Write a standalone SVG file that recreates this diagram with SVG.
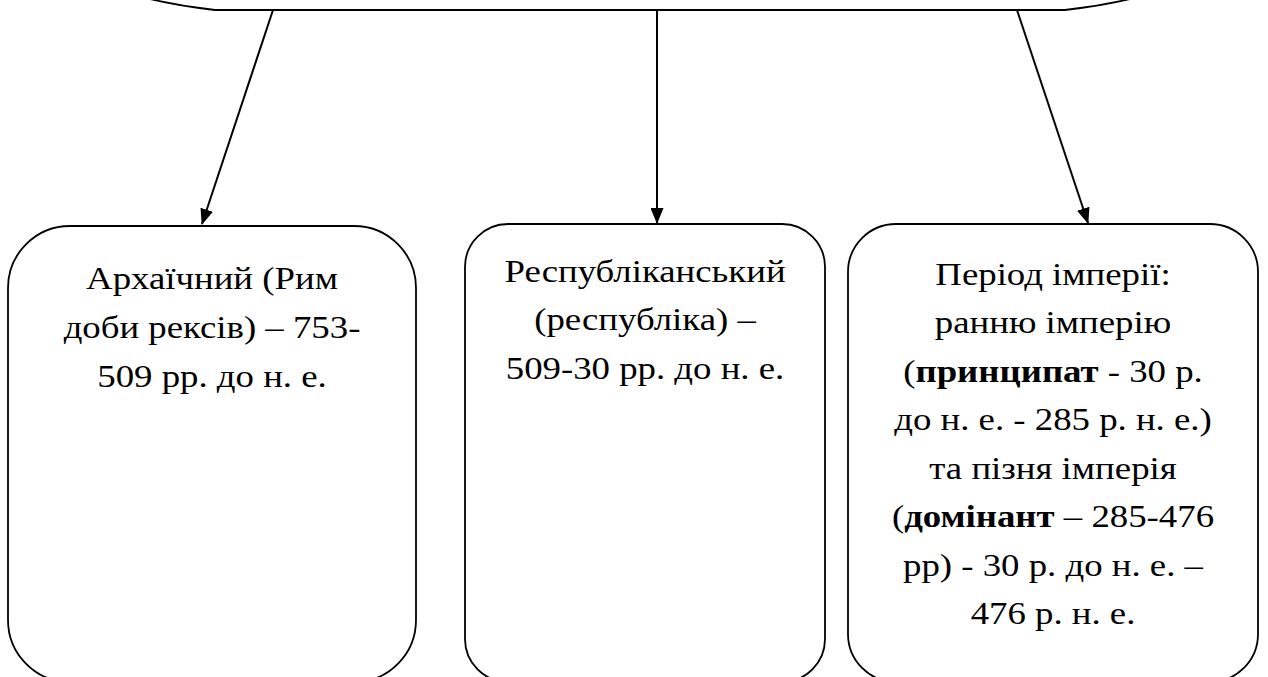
<svg xmlns="http://www.w3.org/2000/svg" width="1268" height="677" viewBox="0 0 1268 677">
<style>
.box{fill:#fff;stroke:#000;stroke-width:1.8}
.lbl{font-family:'Liberation Serif','Times New Roman',serif;font-size:32px;fill:#000;text-anchor:middle}
.b{font-weight:bold}
.con{stroke:#000;stroke-width:2;fill:none}
</style>
<defs>
<marker id="ah" markerWidth="16" markerHeight="13" refX="15" refY="6.5" orient="auto" markerUnits="userSpaceOnUse">
<path d="M0,0 L16,6.5 L0,13 Z" fill="#000"/>
</marker>
</defs>
<rect width="1268" height="677" fill="#fff"/>
<g id="top">
<path class="box" d="M 40 -40 A 530 530 0 0 0 215 10 H 1065 A 530 530 0 0 0 1240 -40"/>
</g>
<g id="connectors">
<line class="con" x1="273" y1="10" x2="202" y2="224" marker-end="url(#ah)"/>
<line class="con" x1="657" y1="10" x2="657" y2="223" marker-end="url(#ah)"/>
<line class="con" x1="1017" y1="10" x2="1088" y2="223" marker-end="url(#ah)"/>
</g>
<g id="node1">
<rect class="box" x="8" y="226" width="408" height="456" rx="62" ry="62"/>
<g transform="translate(212,0) scale(1.15,1)">
<text class="lbl" x="0" y="289">Архаїчний (Рим</text>
<text class="lbl" x="0" y="338">доби рексів) – 753-</text>
<text class="lbl" x="0" y="387">509 рр. до н. е.</text>
</g>
</g>
<g id="node2">
<rect class="box" x="465" y="224" width="360" height="458" rx="43" ry="43"/>
<g transform="translate(645,0) scale(1.15,1)">
<text class="lbl" x="0" y="282">Республіканський</text>
<text class="lbl" x="0" y="330">(республіка) –</text>
<text class="lbl" x="0" y="379">509-30 рр. до н. е.</text>
</g>
</g>
<g id="node3">
<rect class="box" x="848" y="224" width="410" height="458" rx="48" ry="48"/>
<g transform="translate(1053,0) scale(1.15,1)">
<text class="lbl" x="0" y="285">Період імперії:</text>
<text class="lbl" x="0" y="333.5">ранню імперію</text>
<text class="lbl" x="0" y="382">(<tspan class="b">принципат</tspan> - 30 р.</text>
<text class="lbl" x="0" y="430.5">до н. е. - 285 р. н. е.)</text>
<text class="lbl" x="0" y="479">та пізня імперія</text>
<text class="lbl" x="0" y="527.5">(<tspan class="b">домінант</tspan> – 285-476</text>
<text class="lbl" x="0" y="576">рр) - 30 р. до н. е. –</text>
<text class="lbl" x="0" y="624.5">476 р. н. е.</text>
</g>
</g>
</svg>
